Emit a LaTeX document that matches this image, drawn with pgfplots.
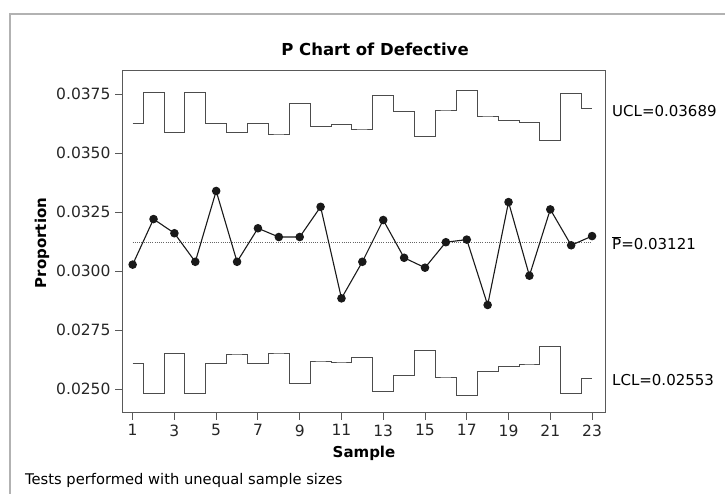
\documentclass[border=0pt]{standalone}
\usepackage{pgfplots}
\pgfplotsset{compat=1.18}
\usepackage{fontspec}
\setmainfont{DejaVu Sans}
\definecolor{framec}{gray}{0.35}
\definecolor{limc}{gray}{0.3}
\begin{document}
\begin{tikzpicture}[x=1pt,y=1pt]
\path[use as bounding box] (0,0) rectangle (725,494);
\draw[gray!60, line width=1.2pt] (10,0) -- (10,480) -- (725,480);
\begin{axis}[
  at={(122pt,81pt)}, anchor=south west,
  scale only axis, width=483pt, height=342pt,
  xmin=0.49, xmax=23.62, ymin=0.023983, ymax=0.038475,
  axis line style={framec, line width=1pt},
  tick pos=left, tick align=outside,
  major tick length=7pt,
  every tick/.style={framec, line width=0.9pt},
  xtick={1,3,5,7,9,11,13,15,17,19,21,23},
  ytick={0.025,0.0275,0.03,0.0325,0.035,0.0375},
  yticklabels={0.0250,0.0275,0.0300,0.0325,0.0350,0.0375},
  scaled y ticks=false,
  tick label style={font=\fontsize{15.5}{18}\selectfont, text=black!85},
  /pgf/number format/assume math mode=true,
  xticklabel style={yshift=-1pt},
  yticklabel style={xshift=-1pt},
  clip=false,
]
\addplot[limc, line width=0.9pt, const plot mark mid] coordinates {
(1,0.036258) (2,0.037572) (3,0.035877) (4,0.037555) (5,0.036258) (6,0.035877)
(7,0.036258) (8,0.035805) (9,0.037106) (10,0.036114) (11,0.036215) (12,0.036017)
(13,0.037432) (14,0.036766) (15,0.035691) (16,0.036822) (17,0.037640) (18,0.036568)
(19,0.036369) (20,0.036284) (21,0.035538) (22,0.037530) (23,0.036879)};
\addplot[limc, line width=0.9pt, const plot mark mid] coordinates {
(1,0.026089) (2,0.024818) (3,0.026496) (4,0.024818) (5,0.026089) (6,0.026483)
(7,0.026089) (8,0.026525) (9,0.025225) (10,0.026186) (11,0.026144) (12,0.026328)
(13,0.024886) (14,0.025565) (15,0.026624) (16,0.025508) (17,0.024718) (18,0.025749)
(19,0.025961) (20,0.026059) (21,0.026794) (22,0.024801) (23,0.025453)};
\addplot[gray!80!black, line width=0.8pt, dash pattern=on 1pt off 1.2pt] coordinates {(1,0.03121) (23,0.03121)};
\addplot[black!90, line width=1.1pt, mark=*, mark size=3.7pt, mark options={solid, fill=black!90}] coordinates {
(1,0.03027) (2,0.03220) (3,0.03160) (4,0.03039) (5,0.03339) (6,0.03039)
(7,0.03181) (8,0.03144) (9,0.03144) (10,0.03272) (11,0.02884) (12,0.03039)
(13,0.03216) (14,0.03056) (15,0.03014) (16,0.03122) (17,0.03133) (18,0.02856)
(19,0.03292) (20,0.02980) (21,0.03261) (22,0.03109) (23,0.03148)};
\end{axis}
\node[font=\bfseries\fontsize{16.5}{19}\selectfont] at (375,445) {P Chart of Defective};
\node[font=\bfseries\fontsize{15}{18}\selectfont, rotate=90] at (42,251) {Proportion};
\node[font=\bfseries\fontsize{15}{18}\selectfont] at (364,41) {Sample};
\node[font=\fontsize{14.7}{17}\selectfont, anchor=west, inner sep=0pt] at (25,14) {Tests performed with unequal sample sizes};
\node[font=\fontsize{15}{18}\selectfont, anchor=west, inner sep=0pt] at (612,383) {UCL=0.03689};
\node[font=\fontsize{15}{18}\selectfont, anchor=west, inner sep=0pt] at (612,251) {$\overline{\mbox{P}}$=0.03121};
\node[font=\fontsize{15}{18}\selectfont, anchor=west, inner sep=0pt] at (612,114) {LCL=0.02553};
\end{tikzpicture}
\end{document}
